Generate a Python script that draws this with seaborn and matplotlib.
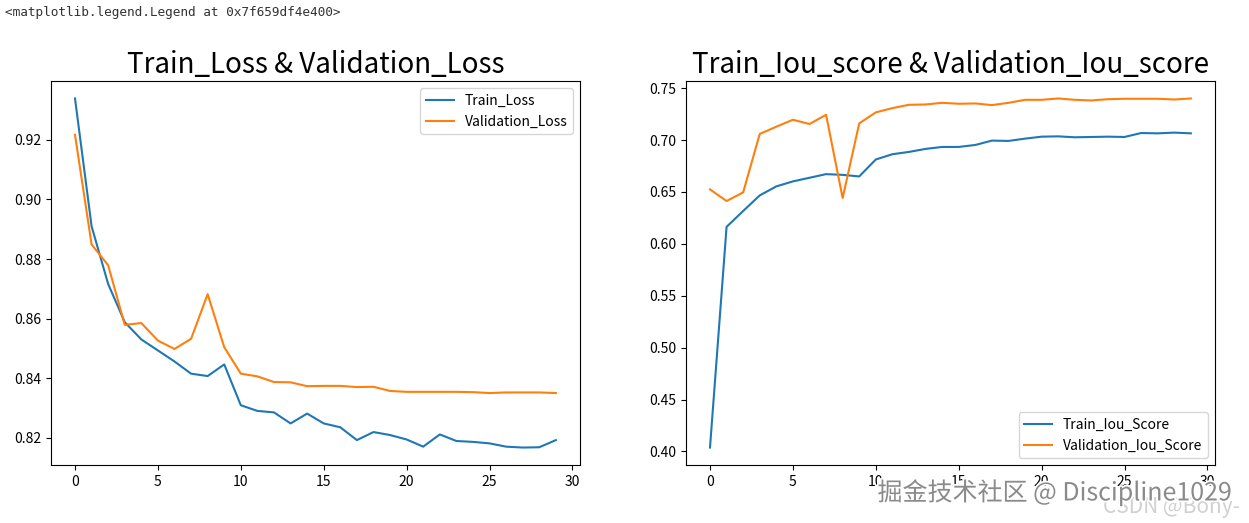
import matplotlib
matplotlib.use("Agg")
import matplotlib.pyplot as plt
import matplotlib.patheffects as pe
import seaborn as sns
import pandas as pd

# training history (30 epochs)
epochs = list(range(30))

train_loss = [0.9339, 0.8910, 0.8716, 0.8588, 0.8530, 0.8493, 0.8456, 0.8415, 0.8407, 0.8446,
              0.8309, 0.8290, 0.8285, 0.8248, 0.8281, 0.8248, 0.8235, 0.8192, 0.8219, 0.8209,
              0.8194, 0.8170, 0.8211, 0.8189, 0.8186, 0.8181, 0.8170, 0.8167, 0.8168, 0.8192]
val_loss = [0.9217, 0.8849, 0.8779, 0.8579, 0.8585, 0.8526, 0.8498, 0.8532, 0.8682, 0.8504,
            0.8415, 0.8406, 0.8387, 0.8386, 0.8373, 0.8374, 0.8374, 0.8370, 0.8371, 0.8357,
            0.8354, 0.8354, 0.8354, 0.8354, 0.8353, 0.8350, 0.8352, 0.8352, 0.8352, 0.8350]

train_iou = [0.4038, 0.6164, 0.6317, 0.6467, 0.6554, 0.6602, 0.6637, 0.6672, 0.6665, 0.6650,
             0.6813, 0.6864, 0.6886, 0.6915, 0.6934, 0.6934, 0.6953, 0.6995, 0.6992, 0.7014,
             0.7033, 0.7036, 0.7027, 0.7030, 0.7033, 0.7030, 0.7068, 0.7065, 0.7072, 0.7065]
val_iou = [0.6525, 0.6413, 0.6496, 0.7059, 0.7129, 0.7196, 0.7155, 0.7244, 0.6442, 0.7161,
           0.7267, 0.7308, 0.7340, 0.7343, 0.7359, 0.7350, 0.7353, 0.7337, 0.7359, 0.7388,
           0.7388, 0.7401, 0.7388, 0.7382, 0.7394, 0.7398, 0.7398, 0.7398, 0.7391, 0.7401]

plt.rcParams['font.family'] = ['Noto Sans CJK SC', 'DejaVu Sans']
plt.rcParams['axes.unicode_minus'] = False

fig = plt.figure(figsize=(12.49, 5.23), dpi=100)
ax1 = fig.add_axes([0.0408, 0.1109, 0.4235, 0.7342])
ax2 = fig.add_axes([0.5492, 0.1109, 0.4235, 0.7342])

df = pd.DataFrame({
    'epoch': epochs,
    'train_loss': train_loss,
    'val_loss': val_loss,
    'train_iou': train_iou,
    'val_iou': val_iou,
})

blue = '#1f77b4'
orange = '#ff7f0e'

# Loss
sns.lineplot(data=df, x='epoch', y='train_loss', ax=ax1, color=blue, label='Train_Loss')
sns.lineplot(data=df, x='epoch', y='val_loss', ax=ax1, color=orange, label='Validation_Loss')
ax1.set_title('Train_Loss & Validation_Loss', fontsize=20)
ax1.set_xlabel('')
ax1.set_ylabel('')
ax1.set_xticks([0, 5, 10, 15, 20, 25, 30])
ax1.legend(loc='upper right')

# Iou score
sns.lineplot(data=df, x='epoch', y='train_iou', ax=ax2, color=blue, label='Train_Iou_Score')
sns.lineplot(data=df, x='epoch', y='val_iou', ax=ax2, color=orange, label='Validation_Iou_Score')
ax2.set_title('Train_Iou_score & Validation_Iou_score', fontsize=20)
ax2.set_xlabel('')
ax2.set_ylabel('')
ax2.set_xticks([0, 5, 10, 15, 20, 25, 30])
ax2.legend(loc='lower right')

# notebook output line and watermarks
fig.text(0.004, 0.977, '<matplotlib.legend.Legend at 0x7f659df4e400>',
         family='DejaVu Sans Mono', fontsize=9.2, color='#333333', va='center')
fig.text(0.993, 0.030, 'CSDN @Bony-', fontsize=15, color='#d0d0d0',
         ha='right', va='center')
fig.text(0.986, 0.058, '掘金技术社区 @ Discipline1029', fontsize=18, color='#8a8a8a',
         ha='right', va='center',
         path_effects=[pe.withStroke(linewidth=2.5, foreground='white')])

fig.savefig('out.png', dpi=100)
